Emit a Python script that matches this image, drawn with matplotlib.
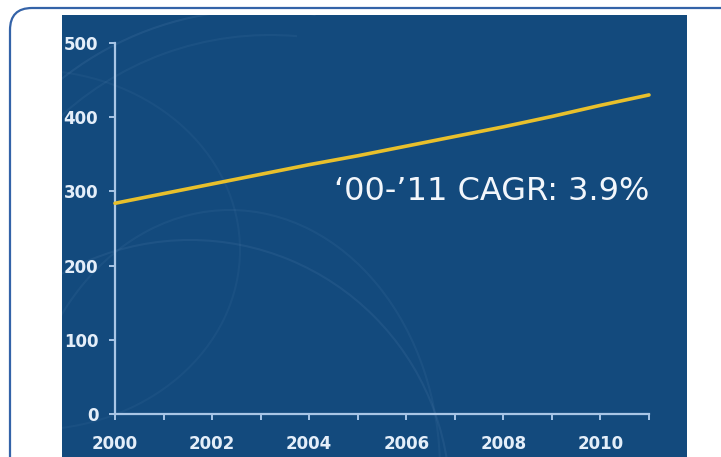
"""Market size line chart with CAGR callout."""

import matplotlib.pyplot as plt
from matplotlib.patches import Arc, FancyBboxPatch, Rectangle

years = [2000, 2001, 2002, 2003, 2004, 2005, 2006, 2007, 2008, 2009, 2010, 2011]
values = [284, 297, 310, 323, 336, 348, 361, 374, 387, 401, 416, 430]
x_ticks = [2000, 2002, 2004, 2006, 2008, 2010]
y_ticks = [0, 100, 200, 300, 400, 500]
callout = "\u201800-\u201911 CAGR: 3.9%"

W, H = 721, 457
BG = "#134a7d"
AXIS = "#a9c6e6"
LABEL = "#e4eef9"

fig = plt.figure(figsize=(W / 100, H / 100), dpi=100)
fig.patch.set_facecolor("white")

# backdrop layer in pixel coordinates
back = fig.add_axes([0, 0, 1, 1])
back.set_xlim(0, W)
back.set_ylim(H, 0)
back.axis("off")
back.add_patch(FancyBboxPatch((10, 8), 740, 520, boxstyle="round,pad=0,rounding_size=22",
                              facecolor="white", edgecolor="#3463a8", linewidth=1.6))
panel = Rectangle((62, 15), 625, 450, facecolor=BG, edgecolor="none")
back.add_patch(panel)

# faint decorative arcs on the panel
arcs = [(190, 500, 520, 520, 0, 360, 0.09), (230, 470, 420, 520, 0, 360, 0.07),
        (30, 250, 420, 360, 0, 360, 0.06), (260, 330, 640, 640, 215, 280, 0.10),
        (270, 345, 620, 620, 225, 275, 0.07)]
for cx, cy, w, h, t1, t2, a in arcs:
    arc = Arc((cx, cy), w, h, theta1=t1, theta2=t2, color="#8fb4dc", alpha=a,
              linewidth=1.5)
    back.add_patch(arc)
    arc.set_clip_path(panel)

ax = fig.add_axes([115 / W, (H - 414) / H, (649 - 115) / W, (414 - 43) / H])
ax.patch.set_alpha(0)
ax.plot(years, values, color="#e8c02c", linewidth=2.6, clip_on=False,
        solid_capstyle="round", zorder=3)
ax.set_xlim(2000, 2011)
ax.set_ylim(0, 500)
ax.set_xticks(range(2000, 2012))
ax.set_xticklabels([str(y) if y in x_ticks else "" for y in range(2000, 2012)])
ax.set_yticks(y_ticks)
for side in ["top", "right"]:
    ax.spines[side].set_visible(False)
for side in ["left", "bottom"]:
    ax.spines[side].set_color(AXIS)
    ax.spines[side].set_linewidth(1.6)
ax.tick_params(colors=AXIS, length=4, width=1.4, direction="out")
ax.tick_params(axis="x", pad=11, labelcolor=LABEL)
ax.tick_params(axis="y", pad=8, labelcolor=LABEL)
for lbl in ax.get_xticklabels() + ax.get_yticklabels():
    lbl.set_fontweight("bold")
    lbl.set_fontsize(12)

ax.text(2011, 300, callout, color="#f2f6fb", fontsize=23, ha="right", va="center",
        family="DejaVu Sans")

fig.savefig("out.png", dpi=100, facecolor="white")
